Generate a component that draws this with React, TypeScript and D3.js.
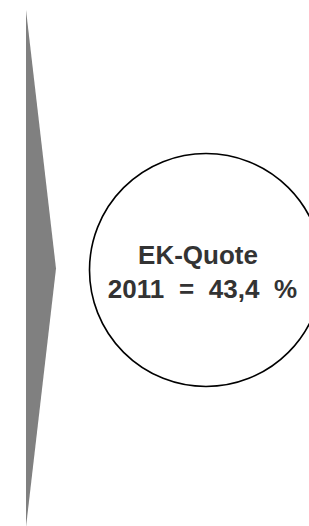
import React, { useRef, useEffect } from "react";
import * as d3 from "d3";

// Inhalt der Grafik
const labelLines = ["EK-Quote", "2011 = 43,4 %"];
const arrowPoints: Array<[number, number]> = [
  [0, 0],
  [1, 0.5],
  [0, 1],
];

const WIDTH = 309;
const HEIGHT = 526;

export default function App() {
  const svgRef = useRef<SVGSVGElement>(null);

  useEffect(() => {
    if (!svgRef.current) return;
    const svg = d3.select(svgRef.current);
    svg.selectAll("*").remove();

    // Pfeil (Dreieck) links
    const ax = d3.scaleLinear().domain([0, 1]).range([26, 56]);
    const ay = d3.scaleLinear().domain([0, 1]).range([10, 527]);
    const line = d3
      .line<[number, number]>()
      .x((d) => ax(d[0]))
      .y((d) => ay(d[1]));

    svg
      .append("path")
      .attr("d", line(arrowPoints) + "Z")
      .attr("fill", "#808080");

    // Kreis mit Beschriftung
    const cx = 206;
    const cy = 270;
    svg
      .append("circle")
      .attr("cx", cx)
      .attr("cy", cy)
      .attr("r", 116.5)
      .attr("fill", "#fff")
      .attr("stroke", "#000")
      .attr("stroke-width", 1.6);

    const lineX = [198, 202.5];
    const lineY = [264, 298];
    svg
      .selectAll("text.label")
      .data(labelLines)
      .enter()
      .append("text")
      .attr("class", "label")
      .attr("x", (d, i) => lineX[i])
      .attr("y", (d, i) => lineY[i])
      .attr("text-anchor", "middle")
      .attr("font-family", "Liberation Sans, Arial, sans-serif")
      .attr("font-weight", "bold")
      .attr("font-size", 26)
      .attr("word-spacing", (d, i) => (i === 1 ? 7.5 : 0))
      .attr("fill", "#333")
      .text((d) => d);
  }, []);

  return (
    <svg
      ref={svgRef}
      width={WIDTH}
      height={HEIGHT}
      style={{ position: "absolute", left: 0, top: 0, display: "block" }}
    />
  );
}
